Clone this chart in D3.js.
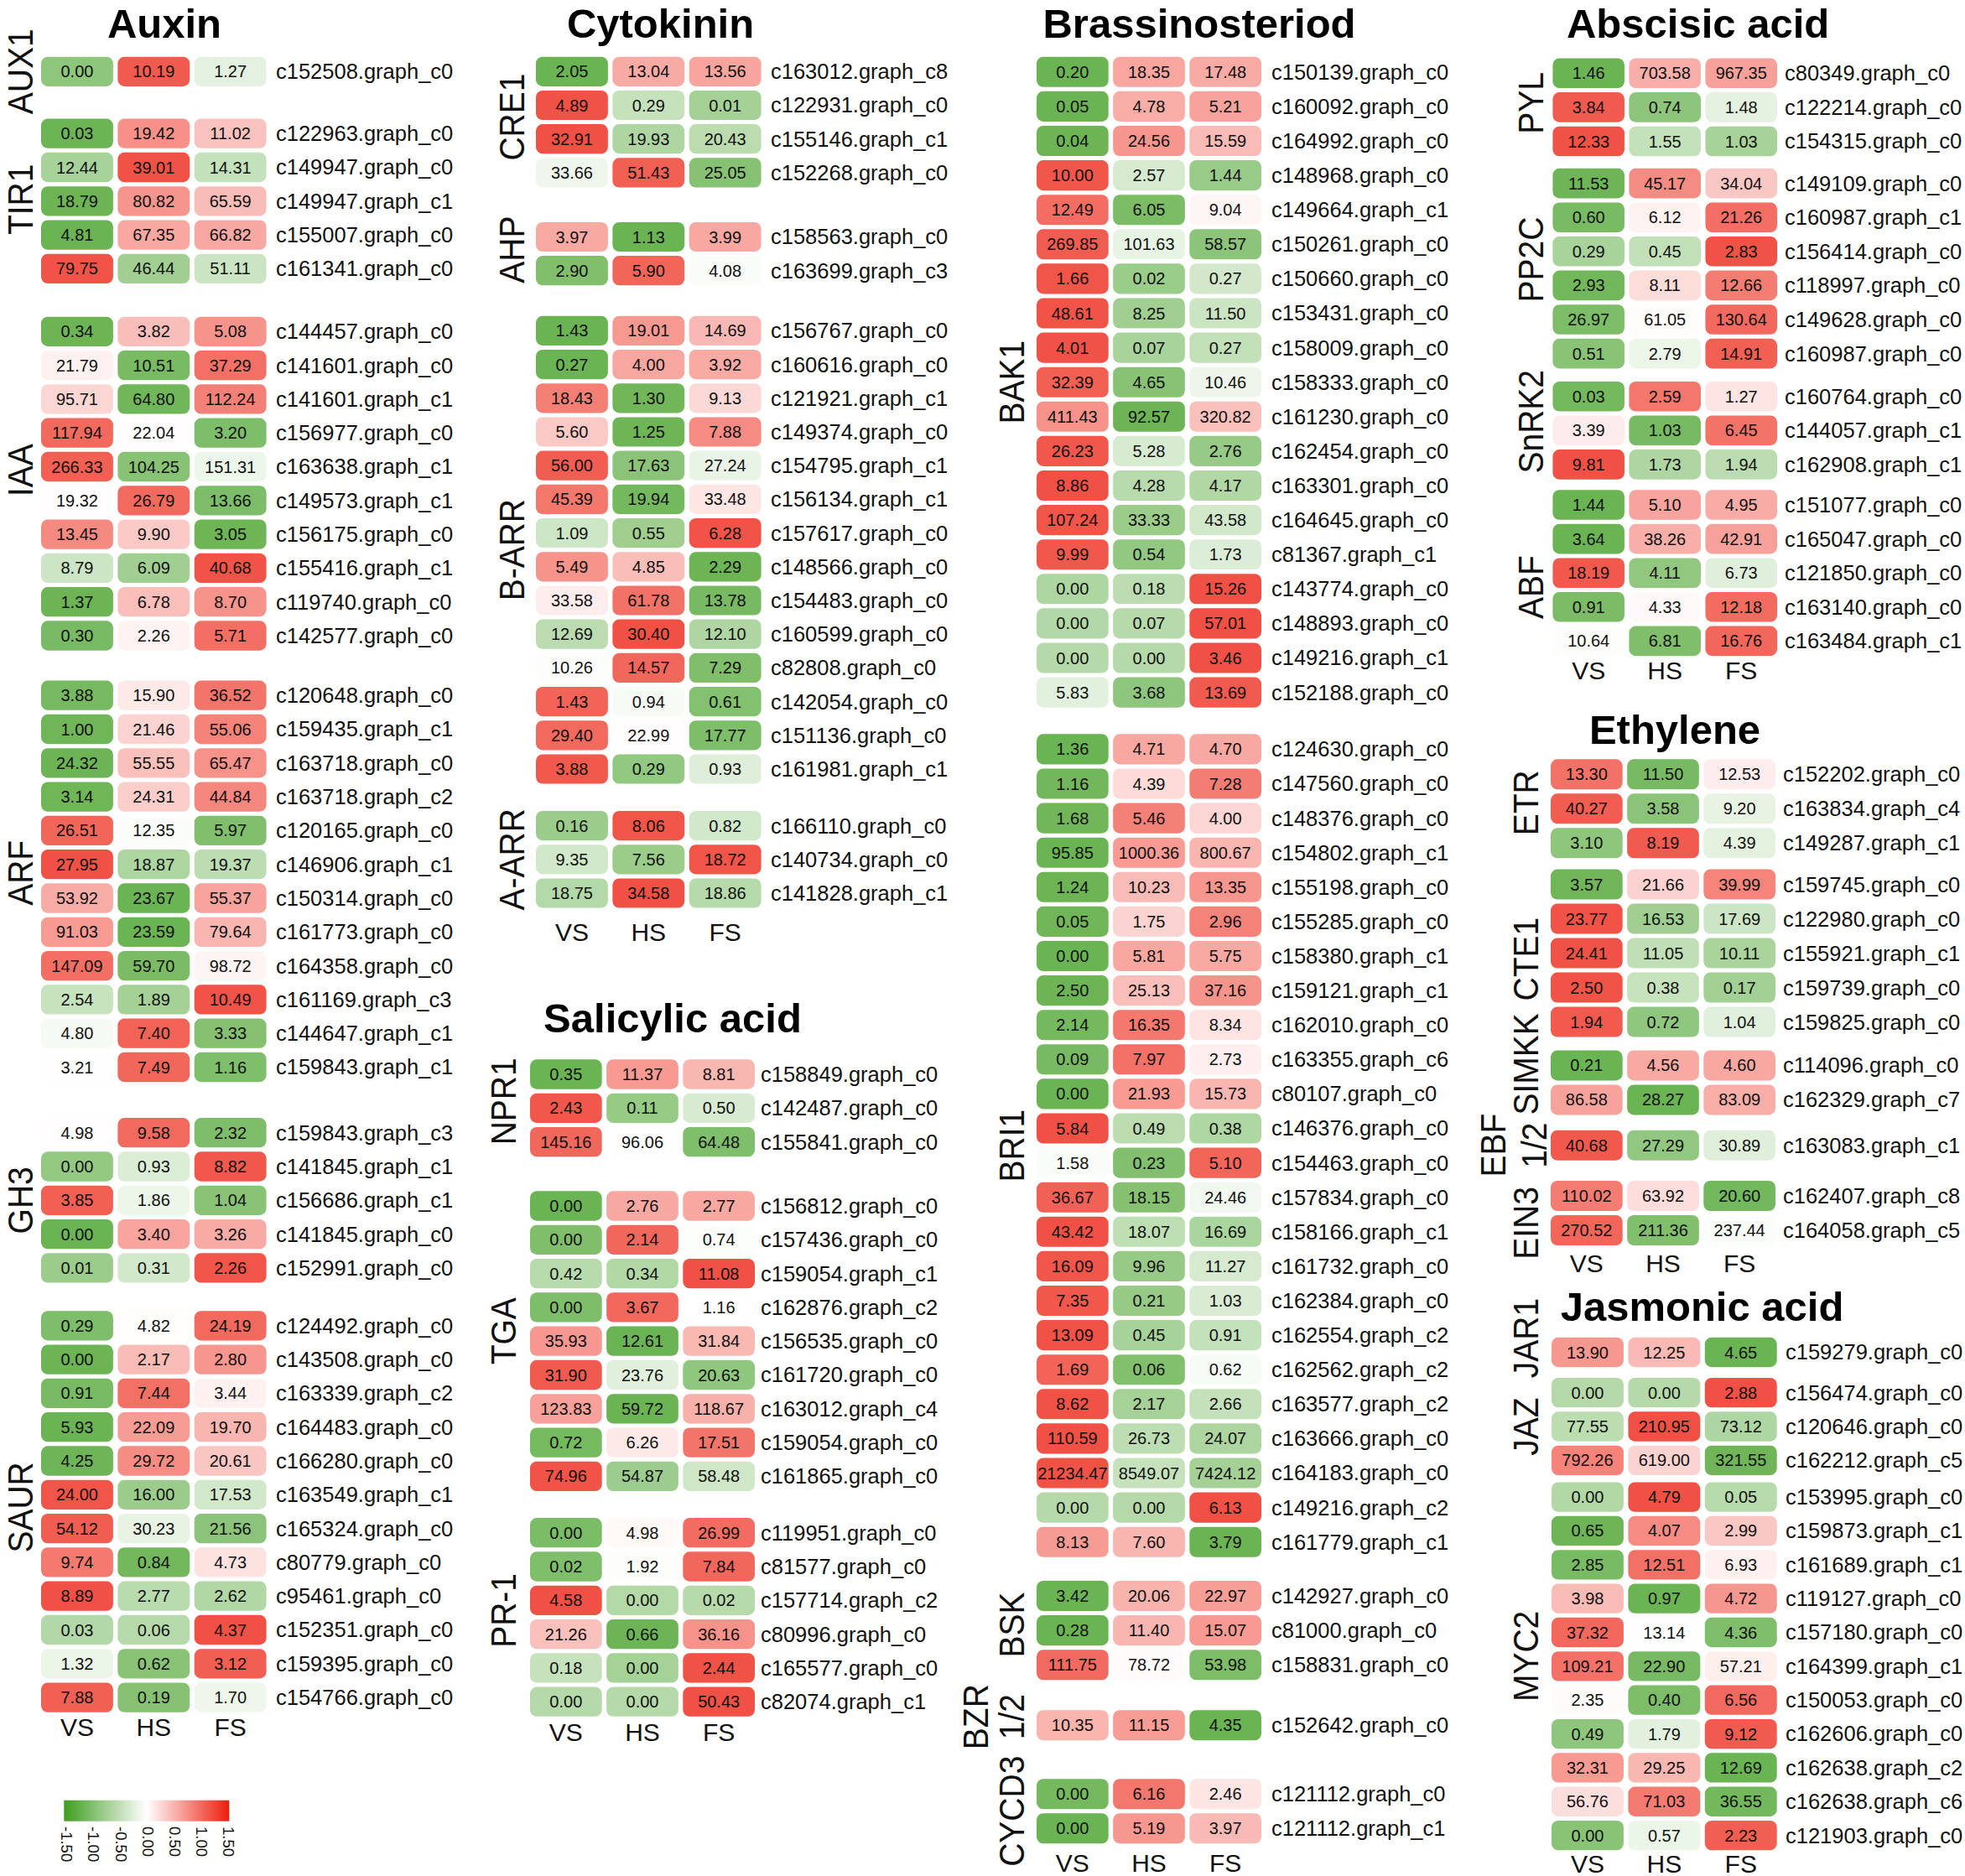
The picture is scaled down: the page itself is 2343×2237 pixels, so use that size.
<!DOCTYPE html>
<html>
<head>
<meta charset="utf-8">
<script src="https://cdn.jsdelivr.net/npm/d3@7"></script>
<style>
  body { margin: 0; background: #fff; }
  svg { display: block; }
</style>
</head>
<body>
<script>
// Hormone signalling genes, expression heatmap (row z-score of log2(x+1))

const stages = ["VS", "HS", "FS"];
const legendTicks = [-1.5, -1.0, -0.5, 0, 0.5, 1.0, 1.5];

// [gene family, transcript id, VS, HS, FS]
const auxinRows = [
  ["AUX1", "c152508.graph_c0", 0.00, 10.19, 1.27],
  ["TIR1", "c122963.graph_c0", 0.03, 19.42, 11.02],
  ["TIR1", "c149947.graph_c0", 12.44, 39.01, 14.31],
  ["TIR1", "c149947.graph_c1", 18.79, 80.82, 65.59],
  ["TIR1", "c155007.graph_c0", 4.81, 67.35, 66.82],
  ["TIR1", "c161341.graph_c0", 79.75, 46.44, 51.11],
  ["IAA", "c144457.graph_c0", 0.34, 3.82, 5.08],
  ["IAA", "c141601.graph_c0", 21.79, 10.51, 37.29],
  ["IAA", "c141601.graph_c1", 95.71, 64.80, 112.24],
  ["IAA", "c156977.graph_c0", 117.94, 22.04, 3.20],
  ["IAA", "c163638.graph_c1", 266.33, 104.25, 151.31],
  ["IAA", "c149573.graph_c1", 19.32, 26.79, 13.66],
  ["IAA", "c156175.graph_c0", 13.45, 9.90, 3.05],
  ["IAA", "c155416.graph_c1", 8.79, 6.09, 40.68],
  ["IAA", "c119740.graph_c0", 1.37, 6.78, 8.70],
  ["IAA", "c142577.graph_c0", 0.30, 2.26, 5.71],
  ["ARF", "c120648.graph_c0", 3.88, 15.90, 36.52],
  ["ARF", "c159435.graph_c1", 1.00, 21.46, 55.06],
  ["ARF", "c163718.graph_c0", 24.32, 55.55, 65.47],
  ["ARF", "c163718.graph_c2", 3.14, 24.31, 44.84],
  ["ARF", "c120165.graph_c0", 26.51, 12.35, 5.97],
  ["ARF", "c146906.graph_c1", 27.95, 18.87, 19.37],
  ["ARF", "c150314.graph_c0", 53.92, 23.67, 55.37],
  ["ARF", "c161773.graph_c0", 91.03, 23.59, 79.64],
  ["ARF", "c164358.graph_c0", 147.09, 59.70, 98.72],
  ["ARF", "c161169.graph_c3", 2.54, 1.89, 10.49],
  ["ARF", "c144647.graph_c1", 4.80, 7.40, 3.33],
  ["ARF", "c159843.graph_c1", 3.21, 7.49, 1.16],
  ["GH3", "c159843.graph_c3", 4.98, 9.58, 2.32],
  ["GH3", "c141845.graph_c1", 0.00, 0.93, 8.82],
  ["GH3", "c156686.graph_c1", 3.85, 1.86, 1.04],
  ["GH3", "c141845.graph_c0", 0.00, 3.40, 3.26],
  ["GH3", "c152991.graph_c0", 0.01, 0.31, 2.26],
  ["SAUR", "c124492.graph_c0", 0.29, 4.82, 24.19],
  ["SAUR", "c143508.graph_c0", 0.00, 2.17, 2.80],
  ["SAUR", "c163339.graph_c2", 0.91, 7.44, 3.44],
  ["SAUR", "c164483.graph_c0", 5.93, 22.09, 19.70],
  ["SAUR", "c166280.graph_c0", 4.25, 29.72, 20.61],
  ["SAUR", "c163549.graph_c1", 24.00, 16.00, 17.53],
  ["SAUR", "c165324.graph_c0", 54.12, 30.23, 21.56],
  ["SAUR", "c80779.graph_c0", 9.74, 0.84, 4.73],
  ["SAUR", "c95461.graph_c0", 8.89, 2.77, 2.62],
  ["SAUR", "c152351.graph_c0", 0.03, 0.06, 4.37],
  ["SAUR", "c159395.graph_c0", 1.32, 0.62, 3.12],
  ["SAUR", "c154766.graph_c0", 7.88, 0.19, 1.70]
];

const cytokininRows = [
  ["CRE1", "c163012.graph_c8", 2.05, 13.04, 13.56],
  ["CRE1", "c122931.graph_c0", 4.89, 0.29, 0.01],
  ["CRE1", "c155146.graph_c1", 32.91, 19.93, 20.43],
  ["CRE1", "c152268.graph_c0", 33.66, 51.43, 25.05],
  ["AHP", "c158563.graph_c0", 3.97, 1.13, 3.99],
  ["AHP", "c163699.graph_c3", 2.90, 5.90, 4.08],
  ["B-ARR", "c156767.graph_c0", 1.43, 19.01, 14.69],
  ["B-ARR", "c160616.graph_c0", 0.27, 4.00, 3.92],
  ["B-ARR", "c121921.graph_c1", 18.43, 1.30, 9.13],
  ["B-ARR", "c149374.graph_c0", 5.60, 1.25, 7.88],
  ["B-ARR", "c154795.graph_c1", 56.00, 17.63, 27.24],
  ["B-ARR", "c156134.graph_c1", 45.39, 19.94, 33.48],
  ["B-ARR", "c157617.graph_c0", 1.09, 0.55, 6.28],
  ["B-ARR", "c148566.graph_c0", 5.49, 4.85, 2.29],
  ["B-ARR", "c154483.graph_c0", 33.58, 61.78, 13.78],
  ["B-ARR", "c160599.graph_c0", 12.69, 30.40, 12.10],
  ["B-ARR", "c82808.graph_c0", 10.26, 14.57, 7.29],
  ["B-ARR", "c142054.graph_c0", 1.43, 0.94, 0.61],
  ["B-ARR", "c151136.graph_c0", 29.40, 22.99, 17.77],
  ["B-ARR", "c161981.graph_c1", 3.88, 0.29, 0.93],
  ["A-ARR", "c166110.graph_c0", 0.16, 8.06, 0.82],
  ["A-ARR", "c140734.graph_c0", 9.35, 7.56, 18.72],
  ["A-ARR", "c141828.graph_c1", 18.75, 34.58, 18.86]
];

const salicylicRows = [
  ["NPR1", "c158849.graph_c0", 0.35, 11.37, 8.81],
  ["NPR1", "c142487.graph_c0", 2.43, 0.11, 0.50],
  ["NPR1", "c155841.graph_c0", 145.16, 96.06, 64.48],
  ["TGA", "c156812.graph_c0", 0.00, 2.76, 2.77],
  ["TGA", "c157436.graph_c0", 0.00, 2.14, 0.74],
  ["TGA", "c159054.graph_c1", 0.42, 0.34, 11.08],
  ["TGA", "c162876.graph_c2", 0.00, 3.67, 1.16],
  ["TGA", "c156535.graph_c0", 35.93, 12.61, 31.84],
  ["TGA", "c161720.graph_c0", 31.90, 23.76, 20.63],
  ["TGA", "c163012.graph_c4", 123.83, 59.72, 118.67],
  ["TGA", "c159054.graph_c0", 0.72, 6.26, 17.51],
  ["TGA", "c161865.graph_c0", 74.96, 54.87, 58.48],
  ["PR-1", "c119951.graph_c0", 0.00, 4.98, 26.99],
  ["PR-1", "c81577.graph_c0", 0.02, 1.92, 7.84],
  ["PR-1", "c157714.graph_c2", 4.58, 0.00, 0.02],
  ["PR-1", "c80996.graph_c0", 21.26, 0.66, 36.16],
  ["PR-1", "c165577.graph_c0", 0.18, 0.00, 2.44],
  ["PR-1", "c82074.graph_c1", 0.00, 0.00, 50.43]
];

const brassinoRows = [
  ["BAK1", "c150139.graph_c0", 0.20, 18.35, 17.48],
  ["BAK1", "c160092.graph_c0", 0.05, 4.78, 5.21],
  ["BAK1", "c164992.graph_c0", 0.04, 24.56, 15.59],
  ["BAK1", "c148968.graph_c0", 10.00, 2.57, 1.44],
  ["BAK1", "c149664.graph_c1", 12.49, 6.05, 9.04],
  ["BAK1", "c150261.graph_c0", 269.85, 101.63, 58.57],
  ["BAK1", "c150660.graph_c0", 1.66, 0.02, 0.27],
  ["BAK1", "c153431.graph_c0", 48.61, 8.25, 11.50],
  ["BAK1", "c158009.graph_c0", 4.01, 0.07, 0.27],
  ["BAK1", "c158333.graph_c0", 32.39, 4.65, 10.46],
  ["BAK1", "c161230.graph_c0", 411.43, 92.57, 320.82],
  ["BAK1", "c162454.graph_c0", 26.23, 5.28, 2.76],
  ["BAK1", "c163301.graph_c0", 8.86, 4.28, 4.17],
  ["BAK1", "c164645.graph_c0", 107.24, 33.33, 43.58],
  ["BAK1", "c81367.graph_c1", 9.99, 0.54, 1.73],
  ["BAK1", "c143774.graph_c0", 0.00, 0.18, 15.26],
  ["BAK1", "c148893.graph_c0", 0.00, 0.07, 57.01],
  ["BAK1", "c149216.graph_c1", 0.00, 0.00, 3.46],
  ["BAK1", "c152188.graph_c0", 5.83, 3.68, 13.69],
  ["BRI1", "c124630.graph_c0", 1.36, 4.71, 4.70],
  ["BRI1", "c147560.graph_c0", 1.16, 4.39, 7.28],
  ["BRI1", "c148376.graph_c0", 1.68, 5.46, 4.00],
  ["BRI1", "c154802.graph_c1", 95.85, 1000.36, 800.67],
  ["BRI1", "c155198.graph_c0", 1.24, 10.23, 13.35],
  ["BRI1", "c155285.graph_c0", 0.05, 1.75, 2.96],
  ["BRI1", "c158380.graph_c1", 0.00, 5.81, 5.75],
  ["BRI1", "c159121.graph_c1", 2.50, 25.13, 37.16],
  ["BRI1", "c162010.graph_c0", 2.14, 16.35, 8.34],
  ["BRI1", "c163355.graph_c6", 0.09, 7.97, 2.73],
  ["BRI1", "c80107.graph_c0", 0.00, 21.93, 15.73],
  ["BRI1", "c146376.graph_c0", 5.84, 0.49, 0.38],
  ["BRI1", "c154463.graph_c0", 1.58, 0.23, 5.10],
  ["BRI1", "c157834.graph_c0", 36.67, 18.15, 24.46],
  ["BRI1", "c158166.graph_c1", 43.42, 18.07, 16.69],
  ["BRI1", "c161732.graph_c0", 16.09, 9.96, 11.27],
  ["BRI1", "c162384.graph_c0", 7.35, 0.21, 1.03],
  ["BRI1", "c162554.graph_c2", 13.09, 0.45, 0.91],
  ["BRI1", "c162562.graph_c2", 1.69, 0.06, 0.62],
  ["BRI1", "c163577.graph_c2", 8.62, 2.17, 2.66],
  ["BRI1", "c163666.graph_c0", 110.59, 26.73, 24.07],
  ["BRI1", "c164183.graph_c0", 21234.47, 8549.07, 7424.12],
  ["BRI1", "c149216.graph_c2", 0.00, 0.00, 6.13],
  ["BRI1", "c161779.graph_c1", 8.13, 7.60, 3.79],
  ["BSK", "c142927.graph_c0", 3.42, 20.06, 22.97],
  ["BSK", "c81000.graph_c0", 0.28, 11.40, 15.07],
  ["BSK", "c158831.graph_c0", 111.75, 78.72, 53.98],
  ["BZR 1/2", "c152642.graph_c0", 10.35, 11.15, 4.35],
  ["CYCD3", "c121112.graph_c0", 0.00, 6.16, 2.46],
  ["CYCD3", "c121112.graph_c1", 0.00, 5.19, 3.97]
];

const abaRows = [
  ["PYL", "c80349.graph_c0", 1.46, 703.58, 967.35],
  ["PYL", "c122214.graph_c0", 3.84, 0.74, 1.48],
  ["PYL", "c154315.graph_c0", 12.33, 1.55, 1.03],
  ["PP2C", "c149109.graph_c0", 11.53, 45.17, 34.04],
  ["PP2C", "c160987.graph_c1", 0.60, 6.12, 21.26],
  ["PP2C", "c156414.graph_c0", 0.29, 0.45, 2.83],
  ["PP2C", "c118997.graph_c0", 2.93, 8.11, 12.66],
  ["PP2C", "c149628.graph_c0", 26.97, 61.05, 130.64],
  ["PP2C", "c160987.graph_c0", 0.51, 2.79, 14.91],
  ["SnRK2", "c160764.graph_c0", 0.03, 2.59, 1.27],
  ["SnRK2", "c144057.graph_c1", 3.39, 1.03, 6.45],
  ["SnRK2", "c162908.graph_c1", 9.81, 1.73, 1.94],
  ["ABF", "c151077.graph_c0", 1.44, 5.10, 4.95],
  ["ABF", "c165047.graph_c0", 3.64, 38.26, 42.91],
  ["ABF", "c121850.graph_c0", 18.19, 4.11, 6.73],
  ["ABF", "c163140.graph_c0", 0.91, 4.33, 12.18],
  ["ABF", "c163484.graph_c1", 10.64, 6.81, 16.76]
];

const ethyleneRows = [
  ["ETR", "c152202.graph_c0", 13.30, 11.50, 12.53],
  ["ETR", "c163834.graph_c4", 40.27, 3.58, 9.20],
  ["ETR", "c149287.graph_c1", 3.10, 8.19, 4.39],
  ["CTE1", "c159745.graph_c0", 3.57, 21.66, 39.99],
  ["CTE1", "c122980.graph_c0", 23.77, 16.53, 17.69],
  ["CTE1", "c155921.graph_c1", 24.41, 11.05, 10.11],
  ["CTE1", "c159739.graph_c0", 2.50, 0.38, 0.17],
  ["CTE1", "c159825.graph_c0", 1.94, 0.72, 1.04],
  ["SIMKK", "c114096.graph_c0", 0.21, 4.56, 4.60],
  ["SIMKK", "c162329.graph_c7", 86.58, 28.27, 83.09],
  ["EBF 1/2", "c163083.graph_c1", 40.68, 27.29, 30.89],
  ["EIN3", "c162407.graph_c8", 110.02, 63.92, 20.60],
  ["EIN3", "c164058.graph_c5", 270.52, 211.36, 237.44]
];

const jaRows = [
  ["JAR1", "c159279.graph_c0", 13.90, 12.25, 4.65],
  ["JAZ", "c156474.graph_c0", 0.00, 0.00, 2.88],
  ["JAZ", "c120646.graph_c0", 77.55, 210.95, 73.12],
  ["JAZ", "c162212.graph_c5", 792.26, 619.00, 321.55],
  ["MYC2", "c153995.graph_c0", 0.00, 4.79, 0.05],
  ["MYC2", "c159873.graph_c1", 0.65, 4.07, 2.99],
  ["MYC2", "c161689.graph_c1", 2.85, 12.51, 6.93],
  ["MYC2", "c119127.graph_c0", 3.98, 0.97, 4.72],
  ["MYC2", "c157180.graph_c0", 37.32, 13.14, 4.36],
  ["MYC2", "c164399.graph_c1", 109.21, 22.90, 57.21],
  ["MYC2", "c150053.graph_c0", 2.35, 0.40, 6.56],
  ["MYC2", "c162606.graph_c0", 0.49, 1.79, 9.12],
  ["MYC2", "c162638.graph_c2", 32.31, 29.25, 12.69],
  ["MYC2", "c162638.graph_c6", 56.76, 71.03, 36.55],
  ["MYC2", "c121903.graph_c0", 0.00, 0.57, 2.23]
];

// panel placement on the page
const panels = [
  { title: "Auxin", rows: auxinRows, titleX: 196, titleY: 45,
    x0: 49, x1: 317.6, labelX: 329, geneX: 39,
    firstY: 85.3, pitch: 40.3, axisDy: 46,
    gaps: { TIR1: 33.6, IAA: 34.6, ARF: 30.9, GH3: 37.9, SAUR: 28.6 },
    geneDy: { TIR1: -2, IAA: -16, ARF: -10, SAUR: -5 } },
  { title: "Cytokinin", rows: cytokininRows, titleX: 787.5, titleY: 45,
    x0: 639, x1: 907.6, labelX: 919, geneX: 624.5,
    firstY: 85.3, pitch: 40.2, axisDy: 57,
    gaps: { "AHP": 36.4, "B-ARR": 31.5, "A-ARR": 27.4 },
    geneDy: { CRE1: -6, AHP: -5 } },
  { title: "Salicylic acid", rows: salicylicRows, titleX: 802, titleY: 1231,
    x0: 632, x1: 900, labelX: 907, geneX: 615,
    firstY: 1281, pitch: 40.3, axisDy: 47,
    gaps: { "TGA": 36.1, "PR-1": 27 },
    geneDy: { NPR1: -8, TGA: -12, "PR-1": -8 } },
  { title: "Brassinosteriod", rows: brassinoRows, titleX: 1430, titleY: 45,
    x0: 1236, x1: 1504, labelX: 1516, geneX: 1221, lineGap: 43.4,
    firstY: 85.8, pitch: 41.1, axisDy: 52,
    gaps: { BRI1: 26.7, BSK: 23.2, "BZR 1/2": 30.9, CYCD3: 40.9 },
    geneDy: { BSK: -6.5, "BZR 1/2": -10 } },
  { title: "Abscisic acid", rows: abaRows, titleX: 2024.6, titleY: 45,
    x0: 1851.4, x1: 2119, labelX: 2128, geneX: 1840,
    firstY: 87.3, pitch: 40.6, axisDy: 45.6,
    gaps: { PP2C: 9.5, SnRK2: 10.5, ABF: 7.5 },
    geneDy: { PYL: -5, PP2C: -10.6, SnRK2: -10.5, ABF: 17 } },
  { title: "Ethylene", rows: ethyleneRows, titleX: 1997, titleY: 887,
    x0: 1849, x1: 2117, labelX: 2126, geneX: 1834, lineGap: 48.6,
    geneXAt: { "EBF 1/2": 1843.6 },
    firstY: 923.3, pitch: 41, axisDy: 50,
    gaps: { CTE1: 8.3, SIMKK: 10.8, "EBF 1/2": 13.3, EIN3: 19.3 },
    geneDy: { ETR: -7, CTE1: 7, SIMKK: -22, EIN3: 12 } },
  { title: "Jasmonic acid", rows: jaRows, titleX: 2029.5, titleY: 1575,
    x0: 1850, x1: 2118.7, labelX: 2129, geneX: 1834,
    firstY: 1612.5, pitch: 40.35, axisDy: 44.3,
    gaps: { JAZ: 7.8, MYC2: 3.4 },
    geneDy: { JAR1: -17, MYC2: -12 } }
];

const width = 2343, height = 2237;
const font = "'Liberation Sans', Arial, Helvetica, sans-serif";

const color = d3.scaleLinear()
    .domain([-1.5, 0, 1.5])
    .range(["#3e9d1f", "#ffffff", "#ec1d0c"])
    .clamp(true);

const fmt = d3.format(".2f");

const svg = d3.select("body").append("svg")
    .attr("width", width)
    .attr("height", height)
    .attr("font-family", font);

svg.append("rect").attr("width", width).attr("height", height).attr("fill", "#fff");

function drawPanel(p) {
  const g = svg.append("g");

  const x = d3.scaleBand().domain(stages).range([p.x0, p.x1]).paddingInner(0.06);
  const y = d3.scaleLinear().domain([0, 1]).range([p.firstY, p.firstY + p.pitch]);
  const h = p.pitch - 5;

  // slot index per row, group gaps added in row units
  let slot = 0, prev = null;
  const rows = p.rows.map((r, i) => {
    const [group, id, ...vals] = r;
    if (i > 0) slot += 1 + (group !== prev ? (p.gaps[group] || 0) / p.pitch : 0);
    prev = group;
    const lv = vals.map(v => Math.log2(v + 1));
    const m = d3.mean(lv), s = d3.deviation(lv);
    const cells = vals.map((v, k) => ({ stage: stages[k], v, z: s ? (lv[k] - m) / s : 0 }));
    return { group, id, cells, slot };
  });

  g.append("text")
      .attr("x", p.titleX)
      .attr("y", p.titleY)
      .attr("text-anchor", "middle")
      .attr("font-size", 49)
      .attr("font-weight", "bold")
      .text(p.title);

  const row = g.selectAll("g.row").data(rows).join("g")
      .attr("class", "row")
      .attr("transform", d => `translate(0,${y(d.slot)})`);

  row.selectAll("rect").data(d => d.cells).join("rect")
      .attr("x", d => x(d.stage))
      .attr("y", -h / 2)
      .attr("width", x.bandwidth())
      .attr("height", h)
      .attr("rx", 8)
      .attr("fill", d => color(d.z));

  row.selectAll("text.val").data(d => d.cells).join("text")
      .attr("class", "val")
      .attr("x", d => x(d.stage) + x.bandwidth() / 2)
      .attr("dy", "0.35em")
      .attr("text-anchor", "middle")
      .attr("font-size", 20)
      .attr("fill", "#111")
      .text(d => fmt(d.v));

  row.append("text")
      .attr("x", p.labelX)
      .attr("dy", "0.35em")
      .attr("font-size", 25.5)
      .attr("fill", "#111")
      .text(d => d.id);

  // gene family labels, rotated
  const groups = d3.groups(rows, d => d.group);
  groups.forEach(([name, rs]) => {
    const cy = (y(rs[0].slot) + y(rs[rs.length - 1].slot)) / 2 + (p.geneDy[name] || 0);
    const lines = name.split(" ");
    const bx = (p.geneXAt && p.geneXAt[name]) || p.geneX;
    lines.forEach((line, k) => {
      const lx = bx - (lines.length - 1 - k) * (p.lineGap || 44);
      g.append("text")
          .attr("transform", `translate(${lx},${cy}) rotate(-90) scale(1,1.08)`)
          .attr("text-anchor", "middle")
          .attr("font-size", 39)
          .attr("fill", "#111")
          .text(line);
    });
  });

  // stage axis under the panel
  const lastY = y(rows[rows.length - 1].slot);
  const axisFont = 30;
  const ax = g.append("g")
      .attr("transform", `translate(0,${lastY + p.axisDy - axisFont * 0.71})`)
      .call(d3.axisBottom(x).tickSize(0).tickPadding(0));
  ax.select(".domain").remove();
  ax.attr("font-size", axisFont).attr("font-family", font);
  ax.selectAll("text").attr("fill", "#111");
}

panels.forEach(drawPanel);

// colour key
const lx = d3.scaleLinear().domain([-1.5, 1.5]).range([79.3, 272.3]);
const grad = svg.append("defs").append("linearGradient")
    .attr("id", "key")
    .attr("x1", "0%").attr("x2", "100%");
grad.selectAll("stop").data(d3.range(-1.5, 1.5001, 0.25)).join("stop")
    .attr("offset", d => `${((d + 1.5) / 3) * 100}%`)
    .attr("stop-color", d => color(d));

svg.append("rect")
    .attr("x", lx(-1.5) - 3)
    .attr("y", 2146.7)
    .attr("width", lx(1.5) - lx(-1.5) + 4)
    .attr("height", 25)
    .attr("fill", "url(#key)");

const key = svg.append("g")
    .attr("transform", "translate(0,2178)")
    .call(d3.axisBottom(lx).tickValues(legendTicks).tickSize(0).tickFormat(d => d.toFixed(2)));
key.select(".domain").remove();
key.attr("font-size", 18.5).attr("font-family", font);
key.selectAll("text")
    .attr("x", 0)
    .attr("y", 0)
    .attr("dy", "0.35em")
    .attr("text-anchor", "start")
    .attr("transform", "rotate(90)")
    .attr("fill", "#111");
</script>
</body>
</html>
